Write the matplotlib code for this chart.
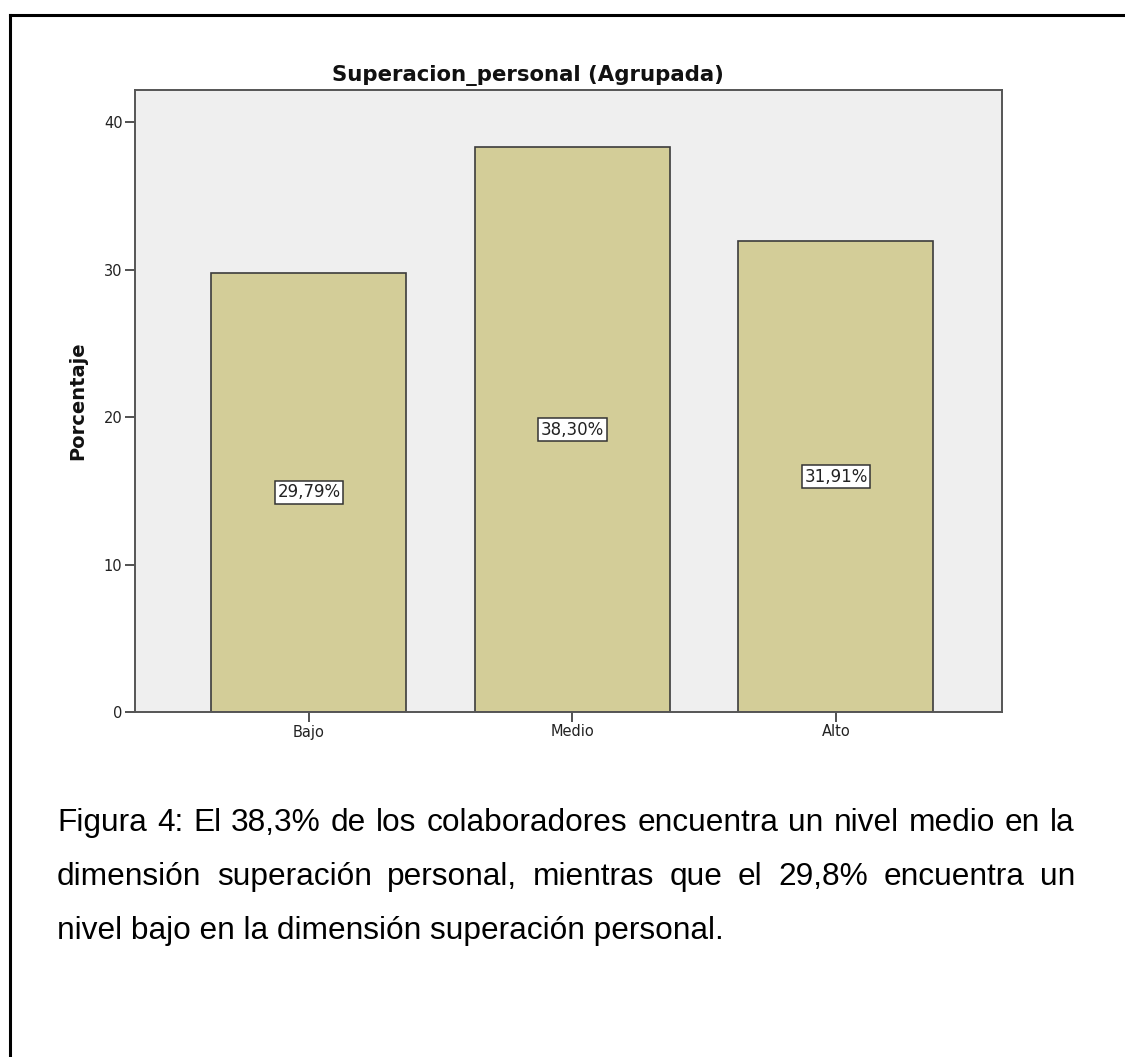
import matplotlib
matplotlib.use("Agg")
import matplotlib.pyplot as plt
from matplotlib.lines import Line2D

# data
categories = ["Bajo", "Medio", "Alto"]
percentages = [29.79, 38.30, 31.91]
bar_labels = ["29,79%", "38,30%", "31,91%"]
yticks = [0, 10, 20, 30, 40]

title = "Superacion_personal (Agrupada)"
caption_lines = [
    "Figura 4: El 38,3% de los colaboradores encuentra un nivel medio en la",
    "dimensión superación personal, mientras que el 29,8% encuentra un",
    "nivel bajo en la dimensión superación personal.",
]

W, H = 1125, 1057
fig = plt.figure(figsize=(W / 100, H / 100), dpi=100)
fig.patch.set_facecolor("white")

# frame of the page: top and left lines only
fig.add_artist(Line2D([9.5 / W, 1.0], [1 - 15 / H, 1 - 15 / H], transform=fig.transFigure,
                      color="black", lw=2.2))
fig.add_artist(Line2D([9.5 / W, 9.5 / W], [0.0, 1 - 15 / H], transform=fig.transFigure,
                      color="black", lw=2.2))

# plot area in pixels: left 135, right 1002, top 90, bottom 712
ax = fig.add_axes([135 / W, (H - 712) / H, (1002 - 135) / W, (712 - 90) / H])
ax.set_facecolor("#efefef")
x = range(len(categories))
ax.bar(x, percentages, width=0.74, color="#d3cd98", edgecolor="#3c3c3c", linewidth=1.2, zorder=2)

for xi, v, lab in zip(x, percentages, bar_labels):
    ax.text(xi, v / 2, lab, ha="center", va="center", fontsize=12, color="#222222",
            bbox=dict(boxstyle="square,pad=0.15", facecolor="white", edgecolor="#333333", lw=1.1),
            zorder=3)

ax.set_xlim(-0.66, 2.63)
ax.set_ylim(0, 42.17)
ax.set_yticks(yticks)
ax.set_xticks(list(x))
ax.set_xticklabels(categories)
ax.tick_params(axis="both", direction="out", length=7, width=1.2, color="#333333",
               labelsize=10.5, labelcolor="#222222", pad=2)
for s in ax.spines.values():
    s.set_color("#555555")
    s.set_linewidth(1.4)

ax.set_ylabel("Porcentaje", fontsize=14, fontweight="bold", color="#111111", labelpad=12)
# SPSS centres the title a little left of the plot area
fig.text(528 / W, 1 - 81 / H, title, ha="center", va="baseline", fontsize=15.3,
         fontweight="bold", color="#111111")

# caption, first two lines justified between x=57 and x=1075
fig.canvas.draw()
renderer = fig.canvas.get_renderer()
left_px, right_px = 57, 1075
baselines = [831, 885, 939]
cap_font = dict(family="Liberation Sans", fontsize=22.8, color="black")

for i, line in enumerate(caption_lines):
    yb = 1 - baselines[i] / H
    if i == len(caption_lines) - 1:
        fig.text(left_px / W, yb, line, ha="left", va="baseline", **cap_font)
        continue
    words = line.split(" ")
    widths = []
    for w in words:
        t = fig.text(0, 0, w, **cap_font)
        widths.append(t.get_window_extent(renderer).width)
        t.remove()
    gap = (right_px - left_px - sum(widths)) / (len(words) - 1)
    xpos = left_px
    for w, wd in zip(words, widths):
        fig.text(xpos / W, yb, w, ha="left", va="baseline", **cap_font)
        xpos += wd + gap

fig.savefig("out.png", dpi=100)
